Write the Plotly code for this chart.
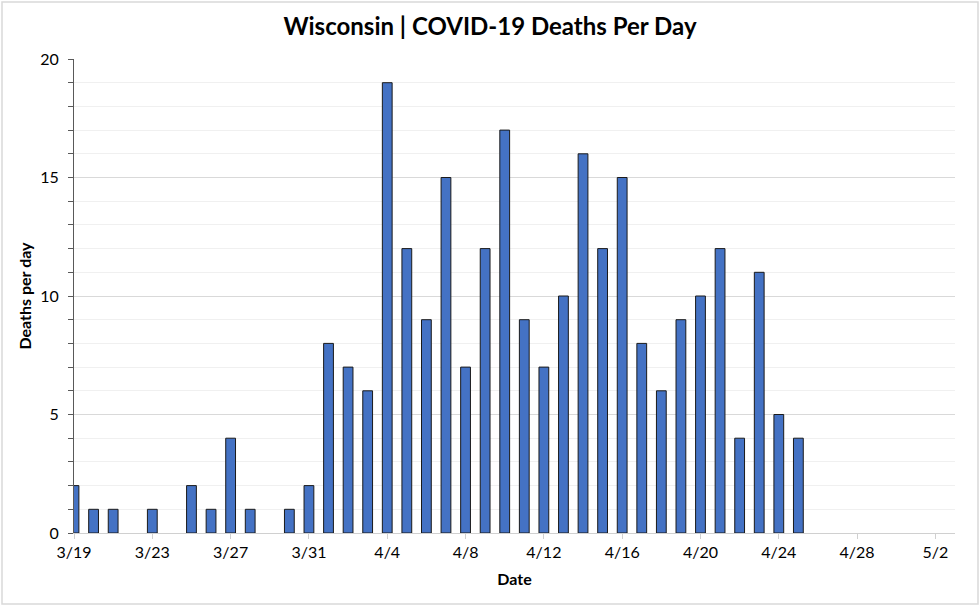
import plotly.graph_objects as go
import pandas as pd

dates = pd.date_range("2020-03-19", "2020-04-25", freq="D")
deaths = [2, 1, 1, 0, 1, 0, 2, 1, 4, 1, 0, 1, 2, 8, 7, 6, 19, 12, 9, 15, 7, 12,
          17, 9, 7, 10, 16, 12, 15, 8, 6, 9, 10, 12, 4, 11, 5, 4]

title_text = "Wisconsin | COVID-19 Deaths Per Day"
x_title = "Date"
y_title = "Deaths per day"

xs = [d for d, v in zip(dates, deaths) if v > 0]
ys = [v for v in deaths if v > 0]

FONT = "Lato"
DAY = 86400000

fig = go.Figure(go.Bar(
    x=xs, y=ys, width=DAY * 0.5,
    marker=dict(color="#4472C4", line=dict(color="#1a1a1a", width=1)),
))

ml, mr, mt, mb = 74, 25, 59, 73
pw, ph = 980 - ml - mr, 606 - mt - mb

fig.update_layout(
    width=980, height=606,
    margin=dict(l=ml, r=mr, t=mt, b=mb),
    paper_bgcolor="white", plot_bgcolor="white",
    showlegend=False,
    font=dict(family=FONT, color="#000000", size=16),
    title=dict(text="<b>" + title_text + "</b>", x=0.5, xanchor="center",
               y=1 - 27 / 606, yanchor="middle",
               font=dict(size=24, family=FONT, color="#000000")),
    xaxis=dict(
        type="date",
        range=["2020-03-19", "2020-05-03"],
        tick0="2020-03-19", dtick=4 * DAY,
        tickformat="%-m/%-d",
        ticks="outside", ticklen=5, tickcolor="#d0d0d0",
        showline=True, linecolor="#d0d0d0", linewidth=1,
        showgrid=False, zeroline=False,
        tickfont=dict(size=16),
        title=dict(text="<b>" + x_title + "</b>", font=dict(size=16), standoff=13),
    ),
    yaxis=dict(
        range=[0, 20], dtick=5, tick0=0,
        ticks="outside", ticklen=5, tickcolor="#595959",
        showline=True, linecolor="#595959", linewidth=1,
        showgrid=True, gridcolor="#d9d9d9", gridwidth=1,
        zeroline=False,
        tickfont=dict(size=16),
        ticklabelstandoff=6,
        minor=dict(dtick=1, ticks="outside", ticklen=5, tickcolor="#595959",
                   showgrid=True, gridcolor="#f0f0f0", gridwidth=1),
        title=dict(text="<b>" + y_title + "</b>", font=dict(size=16), standoff=4),
    ),
)

fig.add_shape(type="rect", xref="paper", yref="paper",
              x0=(2 - ml) / pw, x1=(978 - ml) / pw,
              y0=(2 - mb) / ph, y1=(604 - mb) / ph,
              line=dict(color="#d9d9d9", width=1.5), layer="below")

fig.write_html("out.html", config={"displayModeBar": False},
               post_script="document.body.style.margin='0';document.body.style.padding='0';")
